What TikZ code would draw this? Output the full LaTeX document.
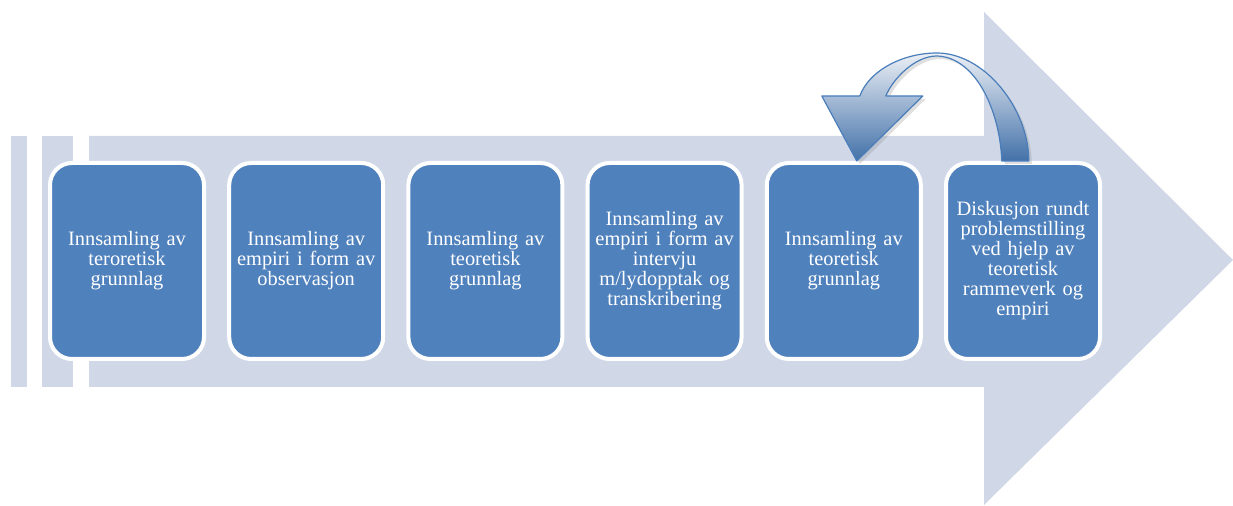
\documentclass[tikz,border=0pt]{standalone}
\usepackage{fontspec}
\setmainfont{Liberation Serif}
\usetikzlibrary{positioning, calc, shadows}

\definecolor{bandfill}{HTML}{D0D8E8}
\definecolor{stagefill}{HTML}{4F81BD}
\definecolor{loopedge}{HTML}{4A7EBB}

\begin{document}
\begin{tikzpicture}[x=0.5pt,y=-0.5pt,node distance=89.6pt,
            stage/.style={draw=white, line width=2pt, fill=stagefill,
              rounded corners=11pt, minimum width=77pt, minimum height=98pt,
              text width=74pt, align=center, inner sep=0pt, text=white,
              font=\fontsize{10.2}{10}\selectfont}]
            \useasboundingbox (0,0) rectangle (1233,506);

            % background band with the big arrow head
            \fill[bandfill] (11,136) rectangle (27,387);
            \fill[bandfill] (42,136) rectangle (73,387);
            \fill[bandfill] (89,136) -- (984,136) -- (984,12) -- (1233,260)
                -- (984,505) -- (984,387) -- (89,387) -- cycle;

            \node[stage] (b1) at (127,261) {Innsamling av\\teroretisk\\grunnlag};
            \node[stage] (b2) [right of=b1] {Innsamling av\\empiri i form av\\observasjon};
            \node[stage] (b3) [right of=b2] {Innsamling av\\teoretisk\\grunnlag};
            \node[stage] (b4) [right of=b3] {Innsamling av\\empiri i form av\\intervju\\m/lydopptak og\\transkribering};
            \node[stage] (b5) [right of=b4] {Innsamling av\\teoretisk\\grunnlag};
            \node[stage] (b6) [right of=b5] {Diskusjon rundt\\problemstilling\\ved hjelp av\\teoretisk\\rammeverk og\\empiri};

            % curved arrow back from the last stage
            \coordinate (tip) at ($(b5.north)+(13,0)$);
            \begin{scope}[shift={(tip)}]
              \path[draw=loopedge, line width=0.6pt, line join=round,
                top color=white!60!bandfill, middle color=loopedge!55!white,
                bottom color=loopedge!90!black,
                drop shadow={opacity=0.25, shadow xshift=1.5pt, shadow yshift=-1.5pt}]
                (0,0) -- (-35,-65) -- (3,-65)
                .. controls (13,-92) and (48,-108) .. (80,-108)
                .. controls (128,-108) and (172,-52) .. (172,0)
                -- (145,0)
                .. controls (143,-52) and (118,-104) .. (80,-105)
                .. controls (58,-105) and (36,-82) .. (29,-65)
                -- (66,-65) -- cycle;
            \end{scope}
        \end{tikzpicture}
\end{document}
